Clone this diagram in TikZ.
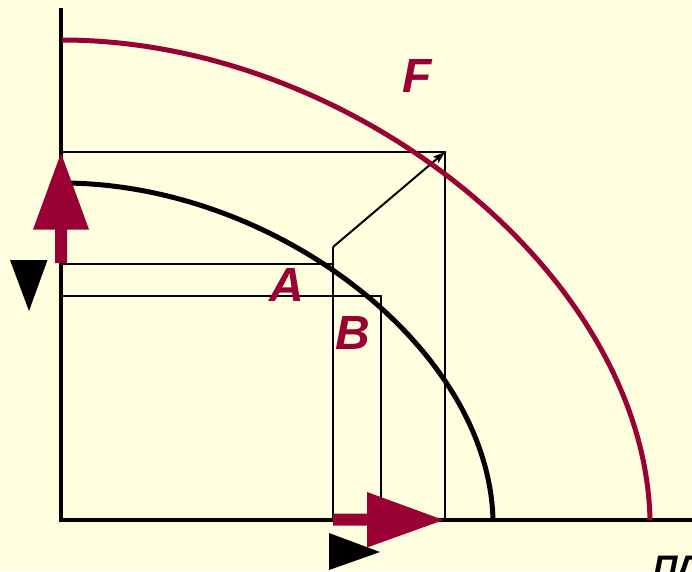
\documentclass[tikz,border=0pt]{standalone}
\usepackage{fontspec}
\setmainfont{Liberation Sans}
\usetikzlibrary{arrows.meta}
\definecolor{bg}{HTML}{FFFFE0}
\definecolor{wine}{HTML}{990033}
\begin{document}
\begin{tikzpicture}[x=1pt,y=-1pt,
  axis/.style={line width=3.5pt},
  thinline/.style={line width=2pt},
  curve/.style={line width=5pt},
  lbl/.style={text=wine, font=\fontsize{48}{48}\selectfont\bfseries\itshape, inner sep=0pt},
  blockarrow/.style={fill=wine, draw=none}]
\fill[bg] (0,0) rectangle (692,571);
\useasboundingbox (0,0) rectangle (692,571);
% named points
\coordinate (O) at (61,520);
\coordinate (Ytop) at (61,8);
\coordinate (Xend) at (692,520);
\coordinate (Y1) at (61,152);
\coordinate (P1) at (445,152);
\coordinate (X1) at (445,520);
\coordinate (Y2) at (61,264);
\coordinate (Q2) at (333,264);
\coordinate (Q) at (333,247);
\coordinate (X2) at (333,520);
\coordinate (Y3) at (61,296);
\coordinate (P3) at (381,296);
\coordinate (X3) at (381,520);
% thin construction lines
\draw[thinline] (Y1) -- (P1) -- (X1);
\draw[thinline] (Y2) -- (Q2);
\draw[thinline] (Q) -- (X2);
\draw[thinline] (Y3) -- (P3) -- (X3);
\draw[thinline, -{Stealth[length=12pt,width=8pt,inset=2pt]}] (Q) -- (P1);
% axes
\draw[axis] (Ytop) -- (O) -- (Xend);
% curves
\coordinate (Fs) at (62,40);
\coordinate (Fe) at (650,520);
\draw[curve, wine] (Fs) .. controls (352,40) and (645,275) .. (Fe);
\coordinate (Bs) at (62,183);
\coordinate (Be) at (493,520);
\draw[curve, black] (Bs) .. controls (275,183) and (489,348) .. (Be);
% black triangles
\fill[black] (10,260) -- (47.5,260) -- (29,311) -- cycle;
\fill[black] (329,533) -- (380,552) -- (329,570) -- cycle;
% red block arrows
\fill[blockarrow] (55,263) -- (55,229.5) -- (33,229.5) -- (61,153) -- (89,229.5) -- (67,229.5) -- (67,263) -- cycle;
\fill[blockarrow] (333,513.5) -- (367,513.5) -- (367,492) -- (443.5,520) -- (367,547.5) -- (367,525.5) -- (333,525.5) -- cycle;
% labels
\node[lbl] (F) at (417,76) {F};
\node[lbl] (A) at (287,285) {A};
\node[lbl] (B) at (352.5,332.5) {B};
\node[lbl, text=black, font=\fontsize{34}{34}\selectfont\bfseries\itshape, anchor=base west] (PL) at (653,579) {ПЛ};
\end{tikzpicture}
\end{document}
